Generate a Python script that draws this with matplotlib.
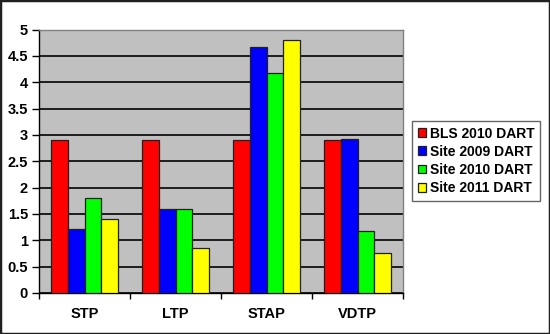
import matplotlib
matplotlib.use("Agg")
import matplotlib.pyplot as plt
import numpy as np

categories = ["STP", "LTP", "STAP", "VDTP"]
series_names = ["BLS 2010 DART", "Site 2009 DART", "Site 2010 DART", "Site 2011 DART"]
bls_2010 = [2.90, 2.90, 2.90, 2.90]
site_2009 = [1.21, 1.60, 4.67, 2.93]
site_2010 = [1.80, 1.60, 4.17, 1.18]
site_2011 = [1.41, 0.85, 4.80, 0.75]
y_ticks = [0, 0.5, 1, 1.5, 2, 2.5, 3, 3.5, 4, 4.5, 5]

colors = ["#FF0000", "#0000FF", "#00FF00", "#FFFF00"]
series = [bls_2010, site_2009, site_2010, site_2011]

plt.rcParams["font.family"] = ["Liberation Sans", "DejaVu Sans"]
plt.rcParams["font.weight"] = "bold"

fig = plt.figure(figsize=(5.5, 3.34), dpi=100)
fig.patch.set_facecolor("white")
ax = fig.add_axes([39 / 550, 1 - 293 / 334, (403 - 39) / 550, (293 - 29.5) / 334])
ax.set_facecolor("#C0C0C0")

x = np.arange(len(categories)) + 0.5
width = 0.183
for i, (vals, name, col) in enumerate(zip(series, series_names, colors)):
    offs = (i - 1.5) * width
    ax.bar(x + offs, vals, width, color=col, edgecolor="#202020",
           linewidth=0.9, label=name, zorder=3)

ax.set_xlim(0, 4)
ax.set_ylim(0, 5)
ax.set_yticks(y_ticks)
ax.set_yticklabels([f"{t:g}" for t in y_ticks])
for lbl in ax.get_yticklabels():
    lbl.set_fontsize(10.5)
    lbl.set_fontweight("bold")
ax.yaxis.grid(True, color="#101010", linewidth=1.3, zorder=1)
ax.set_axisbelow(True)

ax.set_xticks([0, 1, 2, 3, 4])
ax.set_xticklabels([])
ax.set_xticks(x, minor=True)
ax.set_xticklabels(categories, minor=True, fontsize=10.5, fontweight="bold")
ax.tick_params(axis="x", which="minor", length=0, pad=10)
ax.tick_params(axis="x", which="major", length=4, width=1, color="black", direction="out")
ax.tick_params(axis="y", length=5, width=1, color="black", pad=3, labelsize=10.5)

for side in ["top", "right"]:
    ax.spines[side].set_color("#808080")
    ax.spines[side].set_linewidth(1)
ax.spines["left"].set_color("black")
ax.spines["bottom"].set_color("black")
ax.spines["left"].set_linewidth(1)
ax.spines["bottom"].set_linewidth(1)

leg = fig.legend(loc="upper left", bbox_to_anchor=(412 / 550, 1 - 121 / 334),
                 frameon=True, fancybox=False,
                 prop={"weight": "bold", "size": 10},
                 handlelength=0.6, handleheight=0.6, handletextpad=0.3,
                 labelspacing=0.3, borderpad=0.4, borderaxespad=0)
leg.get_frame().set_edgecolor("#404040")
leg.get_frame().set_linewidth(1)

# outer frame around the figure
fig.add_artist(plt.Rectangle((0, 0), 1, 1, transform=fig.transFigure,
                             fill=False, edgecolor="#202020", linewidth=2.5))

fig.savefig("out.png", dpi=100)
